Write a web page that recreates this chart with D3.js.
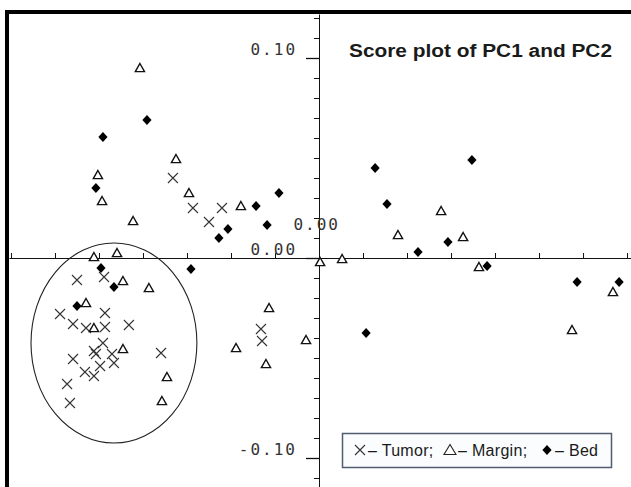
<!DOCTYPE html>
<html>
<head>
<meta charset="utf-8">
<script src="https://cdn.jsdelivr.net/npm/d3@7"></script>
<style>
  body { margin: 0; background: #fff; }
  svg { display: block; }
</style>
</head>
<body>
<div class="graph"></div>
<script>
// Scores, [PC1, PC2]
const tumor = [
    [-0.0664, 0.040], [-0.0573, 0.025], [-0.0441, 0.025], [-0.0500, 0.018],
    [-0.1100, -0.011], [-0.0977, -0.0095], [-0.1177, -0.028], [-0.0973, -0.0275],
    [-0.1118, -0.033], [-0.1059, -0.035], [-0.0973, -0.0345], [-0.0864, -0.0335],
    [-0.0264, -0.0355], [-0.0259, -0.0415], [-0.0982, -0.0425], [-0.1023, -0.0465],
    [-0.1014, -0.048], [-0.0718, -0.0475], [-0.0941, -0.048], [-0.1118, -0.0505],
    [-0.0932, -0.0525], [-0.0995, -0.054], [-0.1064, -0.057], [-0.1023, -0.059],
    [-0.1145, -0.063], [-0.1132, -0.0725]
];

const margin = [
    [-0.0814, 0.095], [-0.0650, 0.0495], [-0.1005, 0.0415], [-0.0986, 0.0285],
    [-0.0591, 0.0325], [-0.0845, 0.0185], [-0.0355, 0.026], [0.0359, 0.0115],
    [0.0555, 0.0235], [0.0655, 0.0105], [0.0005, -0.002], [0.0105, -0.0005],
    [0.0727, -0.0045], [0.1336, -0.017], [0.1150, -0.036], [-0.1023, 0.0005],
    [-0.0918, 0.0025], [-0.0891, -0.0115], [-0.0773, -0.015], [-0.1059, -0.0225],
    [-0.0227, -0.025], [-0.1023, -0.035], [-0.0059, -0.041], [-0.0891, -0.0455],
    [-0.0377, -0.045], [-0.0241, -0.053], [-0.0691, -0.0595], [-0.0714, -0.0715]
];

const bed = [
    [-0.0782, 0.069], [-0.0982, 0.0605], [-0.1014, 0.035], [-0.0286, 0.026],
    [-0.0182, 0.0325], [-0.0414, 0.0145], [-0.0236, 0.0165], [-0.0455, 0.010],
    [0.0255, 0.045], [0.0695, 0.049], [0.0309, 0.027], [0.0586, 0.008],
    [0.0450, 0.003], [0.0764, -0.004], [0.1173, -0.012], [0.1364, -0.012],
    [0.0214, -0.0375], [-0.0991, -0.005], [-0.0582, -0.0055], [-0.0932, -0.0145],
    [-0.1100, -0.024]
];

// Tumor cluster ellipse
const ellipseCenter = [-0.0932, -0.0425];
const ellipseRadii = [0.0377, 0.05];

const yMajorTicks = [0.10, 0, -0.10];
const yTickLabels = ['0.10', '0.00', '-0.10'];
const strayLabel = { text: '0.00', x: 0.0095, y: 0.014 };
const legendLabels = ['\u2013 Tumor;', '\u2013 Margin;', '\u2013 Bed'];
const title = 'Score plot of PC1 and PC2';

const W = 631, H = 487;

const svg = d3.select('.graph')
    .append('svg')
    .attr('width', W)
    .attr('height', H);

// Scales (PC1 has no tick labels, ticks every 0.02)
const xScale = d3.scaleLinear().domain([-0.1409, 0.1418]).range([9, 631]);
const yScale = d3.scaleLinear().domain([-0.1145, 0.122]).range([487, 14]);

const monoFont = g => g
    .attr('fill', '#333')
    .style('font-family', 'DejaVu Sans Mono, monospace')
    .style('font-size', '16px')
    .style('letter-spacing', '2px');

// X axis, ticks pointing up
svg.append('g')
    .attr('transform', `translate(0,${yScale(0)})`)
    .call(d3.axisTop(xScale)
        .tickValues(d3.range(-7, 8).map(i => i * 0.02))
        .tickSize(5)
        .tickSizeOuter(0)
        .tickFormat(''))
    .call(g => g.selectAll('line,path').attr('stroke', '#111'));

// Y axis minor ticks
svg.append('g')
    .attr('transform', `translate(${xScale(0)},0)`)
    .call(d3.axisLeft(yScale)
        .tickValues(d3.range(-11, 13).map(i => i / 100))
        .tickSize(5)
        .tickSizeOuter(0)
        .tickFormat(''))
    .call(g => g.selectAll('line,path').attr('stroke', '#111'));

// Y axis major ticks + labels
svg.append('g')
    .attr('transform', `translate(${xScale(0)},0)`)
    .call(d3.axisLeft(yScale)
        .tickValues(yMajorTicks)
        .tickSize(13)
        .tickSizeOuter(0)
        .tickFormat((d, i) => yTickLabels[i]))
    .call(g => g.select('.domain').remove())
    .call(g => g.selectAll('line').attr('stroke', '#111').attr('stroke-width', 1.3))
    .call(g => g.selectAll('text')
        .attr('x', -22)
        .attr('y', -4)
        .attr('dy', 0)
        .call(monoFont));

// stray label near the origin
svg.append('text')
    .attr('x', xScale(strayLabel.x))
    .attr('y', yScale(strayLabel.y))
    .attr('text-anchor', 'end')
    .call(monoFont)
    .text(strayLabel.text);

// Ellipse round the tumor group
svg.append('ellipse')
    .attr('cx', xScale(ellipseCenter[0]))
    .attr('cy', yScale(ellipseCenter[1]))
    .attr('rx', xScale(ellipseRadii[0]) - xScale(0))
    .attr('ry', yScale(0) - yScale(ellipseRadii[1]))
    .attr('fill', 'none')
    .attr('stroke', '#222')
    .attr('stroke-width', 1.1);

// Marker shapes
const crossPath = 'M-5,-5L5,5M-5,5L5,-5';
const triPath = 'M0,-4.5L4.6,3.6L-4.6,3.6Z';
const diamondPath = 'M0,-5L4.6,0L0,5L-4.6,0Z';

const drawMarkers = (data, path, fill, stroke, sw) => {
    svg.append('g')
        .selectAll('path')
        .data(data)
        .enter()
        .append('path')
        .attr('d', path)
        .attr('transform', d => `translate(${xScale(d[0])},${yScale(d[1])})`)
        .attr('fill', fill)
        .attr('stroke', stroke)
        .attr('stroke-width', sw);
};

drawMarkers(tumor, crossPath, 'none', '#333', 1.1);
drawMarkers(margin, triPath, '#fff', '#111', 1.4);
drawMarkers(bed, diamondPath, '#000', 'none', 0);

// Frame (top and left edges only are in view)
svg.append('path')
    .attr('d', `M7,${H}V12H${W}`)
    .attr('fill', 'none')
    .attr('stroke', '#000')
    .attr('stroke-width', 4);

// Title
svg.append('text')
    .attr('x', 349)
    .attr('y', 57)
    .attr('textLength', 263)
    .attr('lengthAdjust', 'spacingAndGlyphs')
    .attr('fill', '#1a1a1a')
    .style('font-family', 'Liberation Sans, Arial, sans-serif')
    .style('font-weight', 'bold')
    .style('font-size', '18px')
    .text(title);

// Legend
const legend = svg.append('g');
legend.append('rect')
    .attr('x', 342.5)
    .attr('y', 433.5)
    .attr('width', 269)
    .attr('height', 34)
    .attr('fill', '#fbfcfe')
    .attr('stroke', '#4f5b70')
    .attr('stroke-width', 1.5);

const legendShapes = [
    { path: crossPath, fill: 'none', stroke: '#333', sw: 1.1, x: 360 },
    { path: 'M0,-5.5L6,4.5L-6,4.5Z', fill: '#fff', stroke: '#222', sw: 1.1, x: 450 },
    { path: diamondPath, fill: '#000', stroke: 'none', sw: 0, x: 547 }
];

legendLabels.forEach((lab, i) => {
    const s = legendShapes[i];
    legend.append('path')
        .attr('d', s.path)
        .attr('transform', `translate(${s.x},450)`)
        .attr('fill', s.fill)
        .attr('stroke', s.stroke)
        .attr('stroke-width', s.sw);
    legend.append('text')
        .attr('x', s.x + 8)
        .attr('y', 456)
        .attr('fill', '#1a1a1a')
        .style('font-family', 'Liberation Sans, Arial, sans-serif')
        .style('font-size', '16px')
        .style('letter-spacing', '0.3px')
        .text(lab);
});
</script>
</body>
</html>
